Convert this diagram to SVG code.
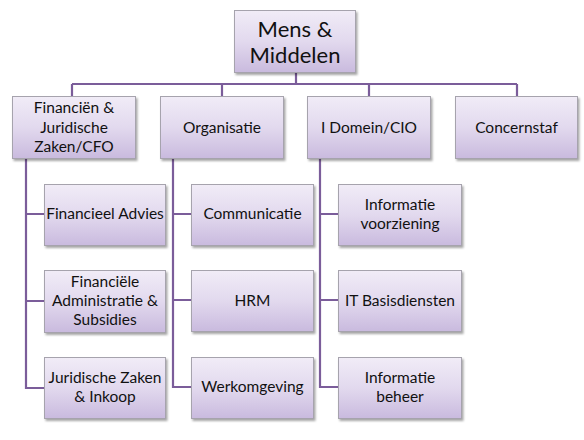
<svg xmlns="http://www.w3.org/2000/svg" width="584" height="440" viewBox="0 0 584 440">
<defs>
<linearGradient id="g" x1="0" y1="0" x2="0" y2="1">
<stop offset="0" stop-color="#f1ecf7"/>
<stop offset="0.5" stop-color="#e2d9ee"/>
<stop offset="1" stop-color="#c9bade"/>
</linearGradient>
<filter id="sh" x="-10%" y="-10%" width="130%" height="130%">
<feDropShadow dx="1.5" dy="2" stdDeviation="1.2" flood-color="#000" flood-opacity="0.35"/>
</filter>
<style>
.b{fill:url(#g);stroke:#a6a3ad;stroke-width:1;filter:url(#sh)}
.t{font-family:Lato,"Open Sans",sans-serif;font-size:15.5px;fill:#111;text-anchor:middle}
.tt{font-family:Lato,"Open Sans",sans-serif;font-size:22px;fill:#111;text-anchor:middle}
.c{fill:none;stroke:#7b5d9a;stroke-width:2.2}
</style>
</defs>
<rect width="584" height="440" fill="#fff"/>
<g id="connectors">
<path class="c" d="M296 72V84M72 84H517M72 84V96M222 84V96M369 84V96M517 84V96"/>
<path class="c" d="M26 158V388H44M26 214H44M26 301H44"/>
<path class="c" d="M173 158V387H191M173 214H191M173 300H191"/>
<path class="c" d="M320 158V387H338M320 214H338M320 300H338"/>
</g>
<g id="mens-middelen">
<rect class="b" x="234.5" y="10.5" width="121" height="62"/>
<text class="tt" x="295" y="37">Mens &amp;</text>
<text class="tt" x="295" y="63">Middelen</text>
</g>
<g id="financien">
<rect class="b" x="12.5" y="96.5" width="123" height="62"/>
<text class="t" x="74" y="113">Financiën &amp;</text>
<text class="t" x="74" y="133">Juridische</text>
<text class="t" x="74" y="152">Zaken/CFO</text>
</g>
<g id="organisatie">
<rect class="b" x="160.5" y="96.5" width="123" height="62"/>
<text class="t" x="222" y="133">Organisatie</text>
</g>
<g id="idomein">
<rect class="b" x="307.5" y="96.5" width="123" height="62"/>
<text class="t" x="369" y="133">I Domein/CIO</text>
</g>
<g id="concernstaf">
<rect class="b" x="455.5" y="96.5" width="122" height="62"/>
<text class="t" x="516.5" y="133">Concernstaf</text>
</g>
<g id="financieel-advies">
<rect class="b" x="44.5" y="184.5" width="121" height="61"/>
<text class="t" x="105" y="219">Financieel Advies</text>
</g>
<g id="financiele-administratie">
<rect class="b" x="44.5" y="270.5" width="121" height="62"/>
<text class="t" x="105" y="287">Financiële</text>
<text class="t" x="105" y="306">Administratie &amp;</text>
<text class="t" x="105" y="325">Subsidies</text>
</g>
<g id="juridische-zaken">
<rect class="b" x="44.5" y="357.5" width="121" height="61"/>
<text class="t" x="105" y="383">Juridische Zaken</text>
<text class="t" x="105" y="402">&amp; Inkoop</text>
</g>
<g id="communicatie">
<rect class="b" x="191.5" y="184.5" width="122" height="61"/>
<text class="t" x="252.5" y="219">Communicatie</text>
</g>
<g id="hrm">
<rect class="b" x="191.5" y="270.5" width="122" height="61"/>
<text class="t" x="252.5" y="306">HRM</text>
</g>
<g id="werkomgeving">
<rect class="b" x="191.5" y="357.5" width="122" height="61"/>
<text class="t" x="252.5" y="392">Werkomgeving</text>
</g>
<g id="informatie-voorziening">
<rect class="b" x="338.5" y="184.5" width="123" height="61"/>
<text class="t" x="400" y="210">Informatie</text>
<text class="t" x="400" y="229">voorziening</text>
</g>
<g id="it-basisdiensten">
<rect class="b" x="338.5" y="270.5" width="123" height="61"/>
<text class="t" x="400" y="306">IT Basisdiensten</text>
</g>
<g id="informatie-beheer">
<rect class="b" x="338.5" y="357.5" width="123" height="61"/>
<text class="t" x="400" y="383">Informatie</text>
<text class="t" x="400" y="402">beheer</text>
</g>
</svg>
